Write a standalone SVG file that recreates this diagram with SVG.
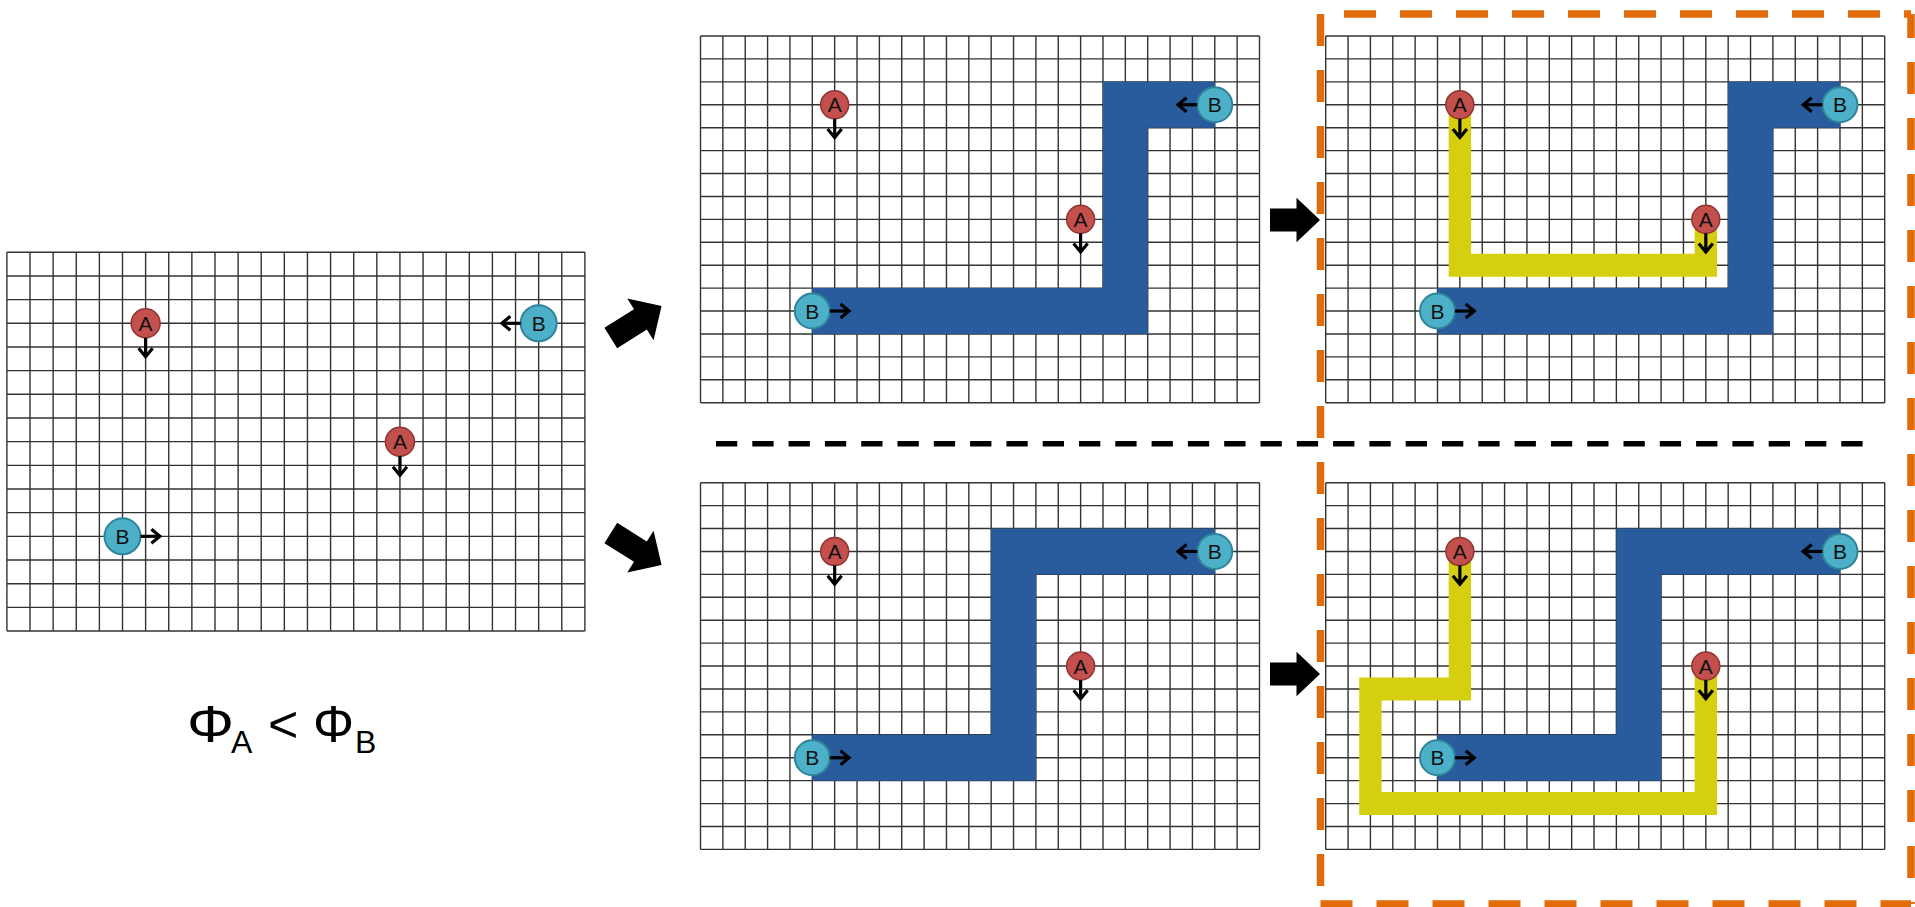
<svg xmlns="http://www.w3.org/2000/svg" width="1915" height="907" viewBox="0 0 1915 907">
<style>
.grid{fill:none;stroke:#333;stroke-width:1.4}
.blue{fill:#285c9c}
.yel{fill:#d5cf0f}
.ca{fill:#c4504d;stroke:#8e3532;stroke-width:1.5}
.cb{fill:#4bb0c8;stroke:#2f8499;stroke-width:2}
.lbl{font-family:"Liberation Sans",Arial,sans-serif;font-size:21px;fill:#111;text-anchor:middle}
.arr{fill:none;stroke:#000;stroke-width:3.2;marker-end:url(#chev)}
.blk{fill:#000}
.phi{font-family:"Liberation Sans",Arial,sans-serif;fill:#000}
.or{fill:none;stroke:#e36c0a;stroke-width:7.5;stroke-dasharray:32 24}
</style>
<defs>
<marker id="chev" markerUnits="userSpaceOnUse" viewBox="-12 -9 15 18" refX="0" refY="0" markerWidth="15" markerHeight="18" orient="auto">
<path d="M-8.5,-7 L0,0 L-8.5,7" fill="none" stroke="#000" stroke-width="3.2"/>
</marker>
<path id="gR" class="grid" d="M0 0V366.72M22.36 0V366.72M44.72 0V366.72M67.08 0V366.72M89.44 0V366.72M111.8 0V366.72M134.16 0V366.72M156.52 0V366.72M178.88 0V366.72M201.24 0V366.72M223.6 0V366.72M245.96 0V366.72M268.32 0V366.72M290.68 0V366.72M313.04 0V366.72M335.4 0V366.72M357.76 0V366.72M380.12 0V366.72M402.48 0V366.72M424.84 0V366.72M447.2 0V366.72M469.56 0V366.72M491.92 0V366.72M514.28 0V366.72M536.64 0V366.72M559 0V366.72M0 0H559M0 22.92H559M0 45.84H559M0 68.76H559M0 91.68H559M0 114.6H559M0 137.52H559M0 160.44H559M0 183.36H559M0 206.28H559M0 229.2H559M0 252.12H559M0 275.04H559M0 297.96H559M0 320.88H559M0 343.8H559M0 366.72H559"/>
<g id="nodesR">
<g id="nA1"><circle class="ca" cx="134.16" cy="68.76" r="14"/><text class="lbl" x="134.16" y="76.3">A</text><path class="arr" d="M134.16 82.76V101.5"/></g>
<g id="nB1"><circle class="cb" cx="514.28" cy="68.76" r="17.5"/><text class="lbl" x="514.28" y="76.3">B</text><path class="arr" d="M496.78 68.76H477.5"/></g>
<g id="nA2"><circle class="ca" cx="380.12" cy="183.36" r="14"/><text class="lbl" x="380.12" y="190.9">A</text><path class="arr" d="M380.12 197.36V216"/></g>
<g id="nB2"><circle class="cb" cx="111.8" cy="275.04" r="17.5"/><text class="lbl" x="111.8" y="282.6">B</text><path class="arr" d="M129.3 275.04H148.5"/></g>
</g>
<polygon id="blkD" points="0,-12 35,-12 35,-24.7 60,0 35,24.7 35,12 0,12"/>
<polygon id="blkH" points="0,-11.5 26.5,-11.5 26.5,-22.2 50,0 26.5,22.2 26.5,11.5 0,11.5"/>
</defs>

<g id="panel-initial" transform="translate(6.9,252.3)">
<path class="grid" d="M0 0V378.72M23.12 0V378.72M46.24 0V378.72M69.36 0V378.72M92.48 0V378.72M115.6 0V378.72M138.72 0V378.72M161.84 0V378.72M184.96 0V378.72M208.08 0V378.72M231.2 0V378.72M254.32 0V378.72M277.44 0V378.72M300.56 0V378.72M323.68 0V378.72M346.8 0V378.72M369.92 0V378.72M393.04 0V378.72M416.16 0V378.72M439.28 0V378.72M462.4 0V378.72M485.52 0V378.72M508.64 0V378.72M531.76 0V378.72M554.88 0V378.72M578 0V378.72M0 0H578M0 23.67H578M0 47.34H578M0 71.01H578M0 94.68H578M0 118.35H578M0 142.02H578M0 165.69H578M0 189.36H578M0 213.03H578M0 236.7H578M0 260.37H578M0 284.04H578M0 307.71H578M0 331.38H578M0 355.05H578M0 378.72H578"/>
<g id="p1-A1"><circle class="ca" cx="138.72" cy="71.01" r="14.5"/><text class="lbl" x="138.72" y="78.6">A</text><path class="arr" d="M138.72 85.5V104.5"/></g>
<g id="p1-B1"><circle class="cb" cx="531.76" cy="71.01" r="18"/><text class="lbl" x="531.76" y="78.6">B</text><path class="arr" d="M513.76 71.01H495"/></g>
<g id="p1-A2"><circle class="ca" cx="393.04" cy="189.36" r="14.5"/><text class="lbl" x="393.04" y="196.9">A</text><path class="arr" d="M393.04 203.86V223"/></g>
<g id="p1-B2"><circle class="cb" cx="115.6" cy="284.04" r="18"/><text class="lbl" x="115.6" y="291.6">B</text><path class="arr" d="M133.6 284.04H153"/></g>
</g>

<g id="formula">
<text class="phi" x="187" y="742" font-size="52" textLength="47" lengthAdjust="spacingAndGlyphs">Φ</text>
<text class="phi" x="231" y="753" font-size="32">A</text>
<text class="phi" x="268" y="742" font-size="52">&lt;</text>
<text class="phi" x="313" y="742" font-size="52" textLength="41" lengthAdjust="spacingAndGlyphs">Φ</text>
<text class="phi" x="355" y="753" font-size="32">B</text>
</g>

<g id="panel-top-b" transform="translate(700.5,36)">
<use href="#gR"/>
<polygon class="blue" points="111.8,252.12 402.48,252.12 402.48,45.84 514.28,45.84 514.28,91.68 447.2,91.68 447.2,297.96 111.8,297.96"/>
<use href="#nodesR"/>
</g>

<g id="panel-top-ab" transform="translate(1325.7,36)">
<use href="#gR"/>
<polygon class="blue" points="111.8,252.12 402.48,252.12 402.48,45.84 514.28,45.84 514.28,91.68 447.2,91.68 447.2,297.96 111.8,297.96"/>
<polygon class="yel" points="122.98,68.76 145.34,68.76 145.34,217.74 368.94,217.74 368.94,183.36 391.3,183.36 391.3,240.66 122.98,240.66"/>
<use href="#nodesR"/>
</g>

<g id="panel-bot-b" transform="translate(700.5,482.7)">
<use href="#gR"/>
<polygon class="blue" points="111.8,252.12 290.68,252.12 290.68,45.84 514.28,45.84 514.28,91.68 335.4,91.68 335.4,297.96 111.8,297.96"/>
<use href="#nodesR"/>
</g>

<g id="panel-bot-ab" transform="translate(1325.7,482.7)">
<use href="#gR"/>
<polygon class="blue" points="111.8,252.12 290.68,252.12 290.68,45.84 514.28,45.84 514.28,91.68 335.4,91.68 335.4,297.96 111.8,297.96"/>
<polygon class="yel" points="122.98,68.76 145.34,68.76 145.34,217.74 55.9,217.74 55.9,309.42 368.94,309.42 368.94,183.36 391.3,183.36 391.3,332.34 33.54,332.34 33.54,194.82 122.98,194.82"/>
<use href="#nodesR"/>
</g>

<g id="separator">
<line x1="716" y1="443.8" x2="1863" y2="443.8" stroke="#000" stroke-width="5.5" stroke-dasharray="21.3 15"/>
</g>

<g id="highlight">
<line class="or" x1="1320.5" y1="14" x2="1911" y2="14" stroke-dashoffset="32.5"/>
<line class="or" x1="1911" y1="14" x2="1911" y2="904" stroke-dashoffset="8"/>
<line class="or" x1="1320.5" y1="904" x2="1911" y2="904"/>
<line class="or" x1="1320.5" y1="14" x2="1320.5" y2="904"/>
</g>

<g id="connectors">
<use class="blk" href="#blkD" transform="translate(610.8,338) rotate(-32.2)"/>
<use class="blk" href="#blkD" transform="translate(610.8,533) rotate(32.2)"/>
<use class="blk" href="#blkH" transform="translate(1270,220)"/>
<use class="blk" href="#blkH" transform="translate(1270,674)"/>
</g>
</svg>
